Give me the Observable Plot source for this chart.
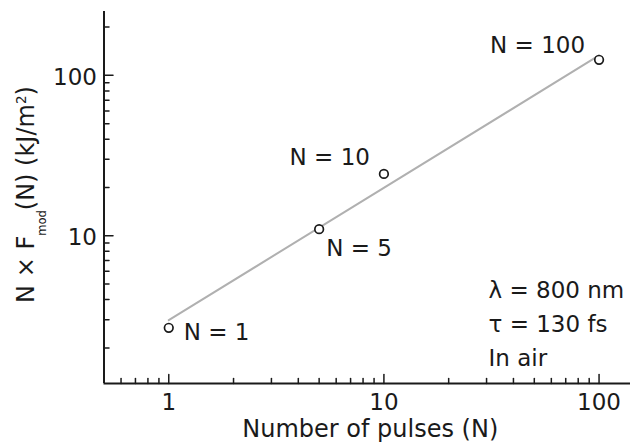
<!DOCTYPE html>
<html><head><meta charset="utf-8">
<script src="https://cdn.jsdelivr.net/npm/d3@7"></script>
<script src="https://cdn.jsdelivr.net/npm/@observablehq/plot@0.6"></script>
<style>html,body{margin:0;padding:0;background:#fff} #chart svg{display:block}</style>
</head><body><div id="chart"></div>
<script>
// ---- data ----
const pulses = [1, 5, 10, 100];
const fluence = [2.67, 11.0, 24.3, 125];
const pointLabels = ["N = 1", "N = 5", "N = 10", "N = 100"];
const fitPulses = [1, 100];
const fitFluence = [2.98, 133];
const xDomain = [0.5, 140];
const yDomain = [1.2, 250];
const xMajorTicks = [1, 10, 100];
const xMinorTicks = [0.6, 0.7, 0.8, 0.9, 2, 3, 4, 5, 6, 7, 8, 9, 20, 30, 40, 50, 60, 70, 80, 90];
const yMajorTicks = [10, 100];
const yMinorTicks = [2, 3, 4, 5, 6, 7, 8, 9, 20, 30, 40, 50, 60, 70, 80, 90, 200];
const xTitle = "Number of pulses (N)";
const yTitleParts = ["N × F", "mod", "(N) (kJ/m", "2", ")"];
const conditions = ["λ = 800 nm", "τ = 130 fs", "In air"];

const yTitle = yTitleParts.join("");
const points = pulses.map((n, i) => ({n, f: fluence[i], label: pointLabels[i]}));
const fit = fitPulses.map((n, i) => ({n, f: fitFluence[i]}));

const FONT = "DejaVu Sans";
const INK = "#1a1a1a";
const FS = 23;
const TITLE_FS = 24;
const tickShape = {draw(ctx, l) { ctx.moveTo(0, 0); ctx.lineTo(0, -l); }};
const labelPlacement = [
  {dx: 15, dy: 5, textAnchor: "start"},
  {dx: 7, dy: 19, textAnchor: "start"},
  {dx: -14, dy: -16, textAnchor: "end"},
  {dx: -14, dy: -14, textAnchor: "end"}
];

const plot = Plot.plot({
  width: 630,
  height: 444,
  marginLeft: 103.5,
  marginRight: 0,
  marginTop: 11,
  marginBottom: 61,
  x: {type: "log", domain: xDomain, axis: null},
  y: {type: "log", domain: yDomain, axis: null},
  style: {fontFamily: FONT, background: "white", color: INK},
  marks: [
    // fit line
    Plot.line(fit, {x: "n", y: "f", stroke: "#b0b0b0", strokeWidth: 2}),
    // axis lines
    Plot.ruleY([yDomain[0]], {stroke: INK, strokeWidth: 2}),
    Plot.ruleX([xDomain[0]], {stroke: INK, strokeWidth: 2}),
    // inward ticks
    Plot.vectorX(xMajorTicks, {x: d => d, frameAnchor: "bottom", length: 9, anchor: "start", shape: tickShape, stroke: INK, strokeWidth: 1.5}),
    Plot.vectorX(xMinorTicks, {x: d => d, frameAnchor: "bottom", length: 5, anchor: "start", shape: tickShape, stroke: INK, strokeWidth: 1.5}),
    Plot.vectorY(yMajorTicks, {y: d => d, frameAnchor: "left", length: 9, rotate: 90, anchor: "start", shape: tickShape, stroke: INK, strokeWidth: 1.5}),
    Plot.vectorY(yMinorTicks, {y: d => d, frameAnchor: "left", length: 5, rotate: 90, anchor: "start", shape: tickShape, stroke: INK, strokeWidth: 1.5}),
    // tick labels
    Plot.text(xMajorTicks, {x: d => d, frameAnchor: "bottom", dy: 19, text: d => String(d), fontSize: FS, fill: INK, lineAnchor: "middle"}),
    Plot.text(yMajorTicks, {y: d => d, frameAnchor: "left", dx: -7, dy: 2, text: d => String(d), textAnchor: "end", fontSize: FS, fill: INK, lineAnchor: "middle"}),
    // axis titles
    Plot.text([xTitle], {frameAnchor: "bottom", dx: 3, dy: 46, text: d => d, fontSize: TITLE_FS, fill: INK, lineAnchor: "middle"}),
    Plot.text([yTitle], {frameAnchor: "left", dx: -78, dy: -3, rotate: -90, text: d => d, fontSize: TITLE_FS, fill: INK, lineAnchor: "middle"}),
    // data points
    Plot.dot(points, {x: "n", y: "f", r: 4.3, stroke: INK, strokeWidth: 1.7, fill: "white"}),
    // point labels
    ...points.map((p, i) => Plot.text([p], {x: "n", y: "f", text: "label", fontSize: FS, fill: INK, lineAnchor: "middle", ...labelPlacement[i]})),
    // experimental conditions
    Plot.text([conditions.join("\n")], {frameAnchor: "bottom-right", dx: -142, dy: -62, text: d => d, textAnchor: "start", lineAnchor: "middle", lineHeight: 1.48, fontSize: FS, fill: INK})
  ]
});

document.getElementById("chart").appendChild(plot);

// rich formatting of the y-axis title (subscript and superscript), re-centred after measuring
const ns = "http://www.w3.org/2000/svg";
plot.querySelectorAll("text").forEach(t => {
  if (t.textContent === yTitle) {
    t.textContent = "";
    const add = (s, attrs = {}) => {
      const ts = document.createElementNS(ns, "tspan");
      ts.textContent = s;
      for (const k in attrs) ts.setAttribute(k, attrs[k]);
      t.appendChild(ts);
    };
    add(yTitleParts[0]);
    add(yTitleParts[1], {"font-size": 11.5, dy: 12});
    add(yTitleParts[2], {dy: -12});
    add(yTitleParts[3], {"font-size": 13.5, dy: -8});
    add(yTitleParts[4], {dy: 8});
    t.setAttribute("text-anchor", "start");
    t.style.textAnchor = "start";
    const L = t.getComputedTextLength();
    t.setAttribute("x", (-L / 2).toFixed(1));
  }
});
</script>
</body></html>
